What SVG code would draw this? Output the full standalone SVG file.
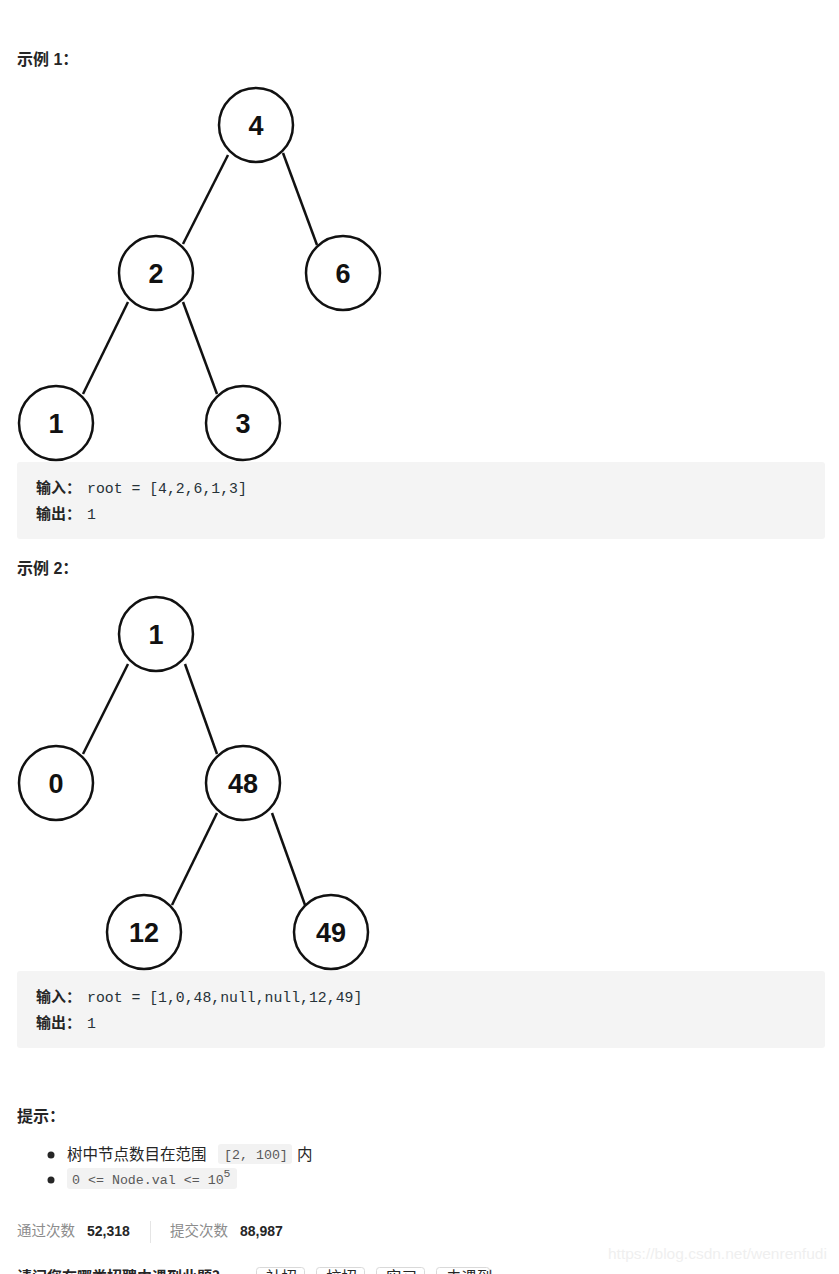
<svg xmlns="http://www.w3.org/2000/svg" width="839" height="1274" viewBox="0 0 839 1274">
<style>
.nc{fill:#fff;stroke:#111;stroke-width:2.5}
.nt{font-family:"Liberation Sans",Arial,sans-serif;font-weight:bold;font-size:27px;fill:#111;text-anchor:middle}
.ed{stroke:#111;stroke-width:2.5;fill:none}
.h{font-family:"Liberation Sans","Noto Sans CJK SC",sans-serif;font-weight:bold;font-size:16px;fill:#262626}
.lb{font-family:"Noto Sans CJK SC",sans-serif;font-weight:bold;font-size:15px;fill:#262626}
.cd{font-family:"Liberation Mono","DejaVu Sans Mono",monospace;font-size:14.8px;fill:#263238}
.box{fill:#f4f4f4}
.tx{font-family:"Noto Sans CJK SC",sans-serif;font-size:15.5px;fill:#262626}
.ic{font-family:"Liberation Mono","DejaVu Sans Mono",monospace;font-size:13.3px;fill:#595959}
.icb{fill:#f2f2f2}
.sl{font-family:"Noto Sans CJK SC",sans-serif;font-size:14.5px;fill:#8c8c8c}
.sv{font-family:"Liberation Sans",Arial,sans-serif;font-weight:bold;font-size:14px;fill:#262626}
</style>
<rect width="839" height="1274" fill="#fff"/>
<text class="h" x="17" y="65">示例 1：</text>
<g id="connectors1">
<line class="ed" x1="228" y1="155" x2="183" y2="244"/>
<line class="ed" x1="283" y1="153" x2="317" y2="245"/>
<line class="ed" x1="128" y1="302" x2="83" y2="394"/>
<line class="ed" x1="183" y1="302" x2="217" y2="394"/>
</g>
<g id="n1-4"><circle class="nc" cx="256" cy="125" r="37"/><text class="nt" x="256" y="135">4</text></g>
<g id="n1-2"><circle class="nc" cx="156" cy="273" r="37"/><text class="nt" x="156" y="283">2</text></g>
<g id="n1-6"><circle class="nc" cx="343" cy="273" r="37"/><text class="nt" x="343" y="283">6</text></g>
<g id="n1-1"><circle class="nc" cx="56" cy="423" r="37"/><text class="nt" x="56" y="433">1</text></g>
<g id="n1-3"><circle class="nc" cx="243" cy="423" r="37"/><text class="nt" x="243" y="433">3</text></g>
<g id="box1">
<rect class="box" x="17" y="462" width="808" height="77" rx="3"/>
<text class="lb" x="36" y="493">输入：</text><text class="cd" x="87" y="493">root = [4,2,6,1,3]</text>
<text class="lb" x="36" y="519">输出：</text><text class="cd" x="87" y="519">1</text>
</g>
<text class="h" x="17" y="574">示例 2：</text>
<g id="connectors2">
<line class="ed" x1="128" y1="664" x2="83" y2="754"/>
<line class="ed" x1="185" y1="664" x2="217" y2="754"/>
<line class="ed" x1="217" y1="813" x2="172" y2="905"/>
<line class="ed" x1="272" y1="813" x2="305" y2="905"/>
</g>
<g id="n2-1"><circle class="nc" cx="156" cy="634" r="37"/><text class="nt" x="156" y="644">1</text></g>
<g id="n2-0"><circle class="nc" cx="56" cy="783" r="37"/><text class="nt" x="56" y="793">0</text></g>
<g id="n2-48"><circle class="nc" cx="243" cy="783" r="37"/><text class="nt" x="243" y="793">48</text></g>
<g id="n2-12"><circle class="nc" cx="144" cy="932" r="37"/><text class="nt" x="144" y="942">12</text></g>
<g id="n2-49"><circle class="nc" cx="331" cy="932" r="37"/><text class="nt" x="331" y="942">49</text></g>
<g id="box2">
<rect class="box" x="17" y="971" width="808" height="77" rx="3"/>
<text class="lb" x="36" y="1002">输入：</text><text class="cd" x="87" y="1002">root = [1,0,48,null,null,12,49]</text>
<text class="lb" x="36" y="1028">输出：</text><text class="cd" x="87" y="1028">1</text>
</g>
<text class="h" x="17" y="1122">提示：</text>
<circle cx="51" cy="1155" r="3.5" fill="#262626"/>
<circle cx="51" cy="1180" r="3.5" fill="#262626"/>
<text class="tx" x="67" y="1160">树中节点数目在范围</text>
<rect class="icb" x="218" y="1144" width="74" height="20" rx="3"/>
<text class="ic" x="224" y="1159">[2, 100]</text>
<text class="tx" x="297" y="1160">内</text>
<rect class="icb" x="67" y="1168" width="170" height="21" rx="3"/>
<text class="ic" x="72" y="1184">0 &lt;= Node.val &lt;= 10<tspan dy="-7" font-size="11.5">5</tspan></text>
<text class="sl" x="17" y="1236">通过次数</text>
<text class="sv" x="87" y="1236">52,318</text>
<line x1="150.5" y1="1221" x2="150.5" y2="1243" stroke="#e5e5e5" stroke-width="1"/>
<text class="sl" x="170" y="1236">提交次数</text>
<text class="sv" x="240" y="1236">88,987</text>
<text x="608" y="1259" font-family="Liberation Sans,Arial,sans-serif" font-size="15.5px" fill="#efefef">https://blog.csdn.net/wenrenfudi</text>
<text class="lb" x="17" y="1282">请问您在哪类招聘中遇到此题？</text>
<rect x="256.5" y="1267.5" width="48" height="20" rx="3" fill="#fff" stroke="#d9d9d9"/>
<rect x="316.5" y="1267.5" width="48" height="20" rx="3" fill="#fff" stroke="#d9d9d9"/>
<rect x="376.5" y="1267.5" width="48" height="20" rx="3" fill="#fff" stroke="#d9d9d9"/>
<rect x="436.5" y="1267.5" width="53" height="20" rx="3" fill="#fff" stroke="#d9d9d9"/>
<text class="tx" x="266" y="1283" font-size="14px">社招</text>
<text class="tx" x="326" y="1283" font-size="14px">校招</text>
<text class="tx" x="386" y="1283" font-size="14px">实习</text>
<text class="tx" x="446" y="1283" font-size="14px">未遇到</text>
</svg>
